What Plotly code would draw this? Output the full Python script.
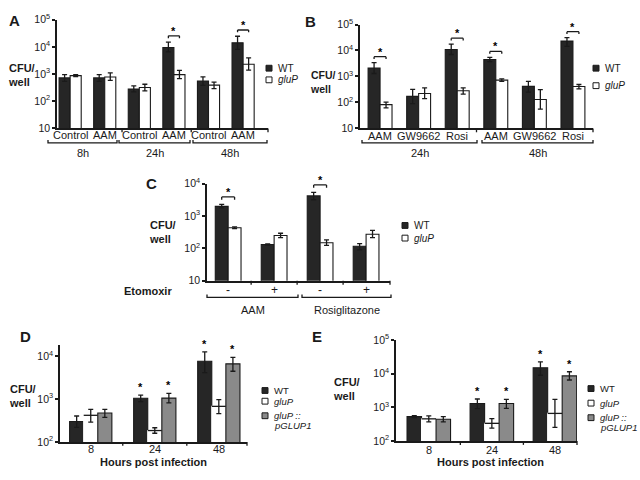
import math
import plotly.graph_objects as go

FONT = "Arial, Liberation Sans, sans-serif"
INK = "#1a1a1a"
WT_FILL = "#262626"
COMP_FILL = "#8a8a8a"

# ---- A: Control vs AAM, 8/24/48h
a_time = ["8h", "8h", "24h", "24h", "48h", "48h"]
a_treat = ["Control", "AAM", "Control", "AAM", "Control", "AAM"]
a_wt = [720, 720, 280, 9500, 550, 14000]
a_wt_hi = [950, 950, 365, 15000, 780, 24500]
a_wt_lo = [540, 540, 220, 6500, 380, 8000]
a_glup = [870, 780, 320, 950, 390, 2300]
a_glup_hi = [940, 1100, 420, 1350, 500, 3900]
a_glup_lo = [800, 580, 240, 680, 290, 1400]
a_sig = [3, 5]

# ---- B: AAM / GW9662 / Rosi at 24h and 48h
b_time = ["24h", "24h", "24h", "48h", "48h", "48h"]
b_treat = ["AAM", "GW9662", "Rosi", "AAM", "GW9662", "Rosi"]
b_wt = [2100, 170, 10900, 4500, 415, 23000]
b_wt_hi = [3400, 320, 17500, 5400, 640, 31000]
b_wt_lo = [1300, 90, 7000, 3700, 250, 14500]
b_glup = [82, 220, 280, 720, 130, 410]
b_glup_hi = [103, 360, 360, 800, 310, 490]
b_glup_lo = [62, 140, 210, 650, 55, 330]
b_sig = [0, 2, 3, 5]

# ---- C: Etomoxir
c_drug = ["AAM", "AAM", "Rosiglitazone", "Rosiglitazone"]
c_etomoxir = ["-", "+", "-", "+"]
c_wt = [2000, 132, 4200, 117]
c_wt_hi = [2300, 138, 5400, 140]
c_wt_lo = [1800, 126, 3200, 90]
c_glup = [437, 250, 150, 275]
c_glup_hi = [465, 295, 185, 360]
c_glup_lo = [410, 215, 125, 215]
c_sig = [0, 2]

# ---- D / E: complementation time course
hours = ["8", "24", "48"]
d_wt = [300, 1050, 7700]
d_wt_hi = [405, 1250, 12800]
d_wt_lo = [220, 880, 4200]
d_glup = [420, 185, 680]
d_glup_hi = [575, 215, 980]
d_glup_lo = [290, 160, 460]
d_comp = [475, 1060, 6700]
d_comp_hi = [575, 1370, 9500]
d_comp_lo = [375, 820, 4500]
d_sig = [1, 2]

e_wt = [530, 1300, 15000]
e_wt_hi = [570, 1770, 22500]
e_wt_lo = [495, 920, 9000]
e_glup = [455, 335, 660]
e_glup_hi = [560, 465, 1730]
e_glup_lo = [370, 240, 255]
e_comp = [445, 1300, 8600]
e_comp_hi = [530, 1730, 11400]
e_comp_lo = [370, 930, 6500]
e_sig = [1, 2]

W, H = 640, 480


def px(x):
    return x / W


def py(y):
    return 1 - y / H


# panel geometry in pixels: plot box, category range, log range, bar width, tick label row
geom = {
    1: dict(x=(57, 268), y=(12, 124), xr=(-0.38, 5.72), yr=(1, 5), w=0.32, lab=131),
    2: dict(x=(360, 593), y=(17, 124), xr=(-0.52, 5.52), yr=(1, 5), w=0.31, lab=132),
    3: dict(x=(207, 390), y=(181, 281), xr=(-0.46, 3.52), yr=(1, 4), w=0.28, lab=290),
    4: dict(x=(60, 247), y=(347, 447), xr=(-0.48, 2.44), yr=(2, 4.27), w=0.22, lab=454),
    5: dict(x=(396, 577), y=(342, 446), xr=(-0.52, 2.35), yr=(2, 5), w=0.23, lab=455),
}


def xa(n):
    return "x" if n == 1 else f"x{n}"


def ya(n):
    return "y" if n == 1 else f"y{n}"


def cat_px(n, c):
    g = geom[n]
    x0, x1 = g["x"]
    r0, r1 = g["xr"]
    return x0 + (c - r0) * (x1 - x0) / (r1 - r0)


def bar(n, cats, vals, hi, lo, fill, line, offset):
    return go.Bar(
        x=cats, y=vals, xaxis=xa(n), yaxis=ya(n),
        offset=offset, width=geom[n]["w"], showlegend=False,
        marker=dict(color=fill, line=dict(color=line, width=1.1)),
        error_y=dict(type="data", symmetric=False,
                     array=[h - v for h, v in zip(hi, vals)],
                     arrayminus=[v - l for v, l in zip(vals, lo)],
                     color=INK, thickness=1.3, width=2.5),
    )


fig = go.Figure()
shapes = []
annotations = []


def note(text, x, y, size=11, bold=False, xanchor="center", yanchor="middle", align="center"):
    if bold:
        text = f"<b>{text}</b>"
    annotations.append(dict(xref="paper", yref="paper", x=px(x), y=py(y), text=text,
                            showarrow=False, xanchor=xanchor, yanchor=yanchor, align=align,
                            font=dict(family=FONT, size=size, color=INK)))


def hline(x0, x1, y, up=3):
    # under-axis grouping bracket with ends curling up
    shapes.append(dict(type="path", xref="paper", yref="paper",
                       path=f"M {px(x0)},{py(y - up)} L {px(x0)},{py(y)} L {px(x1)},{py(y)} L {px(x1)},{py(y - up)}",
                       line=dict(color=INK, width=1.3)))


def xtick(x, y):
    shapes.append(dict(type="line", xref="paper", yref="paper", x0=px(x), x1=px(x),
                       y0=py(y), y1=py(y + 4), line=dict(color=INK, width=1.3)))


def sig_bracket(n, i, top):
    w = geom[n]["w"]
    yb = top / 1.22
    for x0, y0, x1, y1 in [(i - w / 2, yb, i - w / 2, top), (i - w / 2, top, i + w / 2, top),
                           (i + w / 2, top, i + w / 2, yb)]:
        shapes.append(dict(type="line", xref=xa(n), yref=ya(n), x0=x0, y0=y0, x1=x1, y1=y1,
                           line=dict(color=INK, width=1.3)))
    annotations.append(dict(xref=xa(n), yref=ya(n), x=i, y=math.log10(top), text="<b>*</b>",
                            showarrow=False, yanchor="bottom", yshift=-3,
                            font=dict(family=FONT, size=11, color="black")))


def star(n, x, hi):
    annotations.append(dict(xref=xa(n), yref=ya(n), x=x, y=math.log10(hi), text="<b>*</b>",
                            showarrow=False, yanchor="bottom", yshift=0,
                            font=dict(family=FONT, size=11, color="black")))


# ---------- two-bar panels A, B, C
two_bar = [
    (1, [f"{t} {g}" for t, g in zip(a_time, a_treat)], a_treat,
     a_wt, a_wt_hi, a_wt_lo, a_glup, a_glup_hi, a_glup_lo, a_sig),
    (2, [f"{t} {g}" for t, g in zip(b_time, b_treat)], b_treat,
     b_wt, b_wt_hi, b_wt_lo, b_glup, b_glup_hi, b_glup_lo, b_sig),
    (3, [f"{d} {e}" for d, e in zip(c_drug, c_etomoxir)], c_etomoxir,
     c_wt, c_wt_hi, c_wt_lo, c_glup, c_glup_hi, c_glup_lo, c_sig),
]
cat_info = {}
for n, cats, ticks, wt, wt_hi, wt_lo, gp, gp_hi, gp_lo, sig in two_bar:
    w = geom[n]["w"]
    fig.add_trace(bar(n, cats, wt, wt_hi, wt_lo, WT_FILL, INK, -w))
    fig.add_trace(bar(n, cats, gp, gp_hi, gp_lo, "white", INK, 0))
    cat_info[n] = (cats, ticks)
    for i in sig:
        sig_bracket(n, i, max(wt_hi[i], gp_hi[i]) * 1.7)

# ---------- three-bar panels D, E
three_bar = [
    (4, d_wt, d_wt_hi, d_wt_lo, d_glup, d_glup_hi, d_glup_lo, d_comp, d_comp_hi, d_comp_lo, d_sig),
    (5, e_wt, e_wt_hi, e_wt_lo, e_glup, e_glup_hi, e_glup_lo, e_comp, e_comp_hi, e_comp_lo, e_sig),
]
for n, wt, wt_hi, wt_lo, gp, gp_hi, gp_lo, cp, cp_hi, cp_lo, sig in three_bar:
    w = geom[n]["w"]
    fig.add_trace(bar(n, hours, wt, wt_hi, wt_lo, WT_FILL, INK, -1.5 * w))
    fig.add_trace(bar(n, hours, gp, gp_hi, gp_lo, "white", "white", -0.5 * w))
    fig.add_trace(bar(n, hours, cp, cp_hi, cp_lo, COMP_FILL, INK, 0.5 * w))
    # gluP bars only show their top edge
    bw = (geom[n]["x"][1] - geom[n]["x"][0]) * w / (geom[n]["xr"][1] - geom[n]["xr"][0])
    fig.add_trace(go.Scatter(x=hours, y=gp, xaxis=xa(n), yaxis=ya(n), mode="markers",
                             showlegend=False, hoverinfo="skip",
                             marker=dict(symbol="line-ew", size=bw / 1.4,
                                         line=dict(color=INK, width=1.3))))
    cat_info[n] = (hours, hours)
    for i in sig:
        star(n, i - w, wt_hi[i])
        star(n, i + w, cp_hi[i])

# ---------- axes
layout = {}
for n, g in geom.items():
    cats, ticks = cat_info[n]
    xname = "xaxis" if n == 1 else f"xaxis{n}"
    yname = "yaxis" if n == 1 else f"yaxis{n}"
    layout[xname] = dict(
        domain=[px(g["x"][0]), px(g["x"][1])], anchor=ya(n), type="category",
        categoryorder="array", categoryarray=cats, range=list(g["xr"]),
        showticklabels=False, ticks="",
        showline=True, linecolor=INK, linewidth=1.5, showgrid=False, zeroline=False,
        fixedrange=True,
    )
    # category labels under the axis
    for i, t in enumerate(ticks):
        annotations.append(dict(xref=xa(n), yref="paper", x=i, y=py(g["lab"]), text=t,
                                showarrow=False, xanchor="center", yanchor="middle",
                                font=dict(family=FONT, size=12 if n == 3 else 11, color=INK)))
    decades = list(range(int(g["yr"][0]), int(math.floor(g["yr"][1])) + 1))
    layout[yname] = dict(
        domain=[py(g["y"][1]), py(g["y"][0])], anchor=xa(n), type="log", range=list(g["yr"]),
        tickmode="array", tickvals=[10 ** k for k in decades],
        ticktext=["10" if k == 1 else f"10<sup>{k}</sup>" for k in decades],
        ticks="outside", ticklen=3, tickwidth=1.5, tickcolor=INK,
        showline=True, linecolor=INK, linewidth=1.5, showgrid=False, zeroline=False,
        tickfont=dict(family=FONT, size=10.5, color=INK), fixedrange=True,
    )

# x-axis boundary ticks
for n, bounds in {1: [1.5, 3.5], 2: [2.5], 3: [0.5, 1.5, 2.5], 4: [0.5, 1.5], 5: [0.5, 1.5]}.items():
    yb = geom[n]["y"][1]
    for c in bounds:
        xtick(cat_px(n, c), yb)
    xtick(geom[n]["x"][1], yb)

# group brackets and labels
for x0, x1, lab in [(48, 117, "8h"), (119, 190, "24h"), (193, 267, "48h")]:
    hline(x0, x1, 139)
    note(lab, (x0 + x1) / 2, 149)
for x0, x1, lab in [(362, 477, "24h"), (482, 593, "48h")]:
    hline(x0, x1, 139)
    note(lab, (x0 + x1) / 2, 149)
for x0, x1, lab in [(207, 298, "AAM"), (302, 391, "Rosiglitazone")]:
    hline(x0, x1, 298)
    note(lab, (x0 + x1) / 2, 311)
note("Etomoxir", 148, 291, bold=True)
note("Hours post infection", 153, 468, size=11, bold=True)
note("Hours post infection", 490, 468, size=11, bold=True)

# panel letters
for lab, x, y in [("A", 14, 13), ("B", 310, 14), ("C", 151, 181), ("D", 25, 338), ("E", 317, 338)]:
    note(lab, x, y, size=15, bold=True)

# y titles
for x, y, s in [(6, 69, 11), (308, 76, 10.5), (147, 231, 11), (7, 400, 11), (331, 392, 11)]:
    note("CFU/<br>well", x, y, size=s, bold=True, xanchor="left", align="left")

# legends
leg2 = [("WT", WT_FILL, INK), ("<i>gluP</i>", "white", INK)]
for x, ys in [(266, (62, 74)), (593, (62, 80)), (402, (224, 237))]:
    for y, (lab, fill, line) in zip(ys, leg2):
        shapes.append(dict(type="rect", xref="paper", yref="paper", x0=px(x), x1=px(x + 6),
                           y0=py(y + 3), y1=py(y - 3), fillcolor=fill, line=dict(color=line, width=1)))
        note(lab, x + 10, y, size=10, xanchor="left")
leg3 = [("WT", WT_FILL, INK), ("<i>gluP</i>", "white", INK), ("<i>gluP ::</i>", COMP_FILL, INK)]
for x, ys in [(262, (394, 405, 420)), (588, (392, 407, 422))]:
    for y, (lab, fill, line) in zip(ys, leg3):
        shapes.append(dict(type="rect", xref="paper", yref="paper", x0=px(x), x1=px(x + 6),
                           y0=py(y + 3), y1=py(y - 3), fillcolor=fill, line=dict(color=line, width=1)))
        note(lab, x + 10, y, size=9.5, xanchor="left")
    note("<i>pGLUP1</i>", x + 10, ys[2] + 10, size=9.5, xanchor="left")

fig.update_layout(
    width=W, height=H, margin=dict(l=0, r=0, t=0, b=0),
    paper_bgcolor="white", plot_bgcolor="white",
    barmode="overlay", font=dict(family=FONT, color=INK),
    shapes=shapes, annotations=annotations, **layout,
)

fig.write_html("out.html", config={"displayModeBar": False},
               post_script="document.body.style.margin='0';")
